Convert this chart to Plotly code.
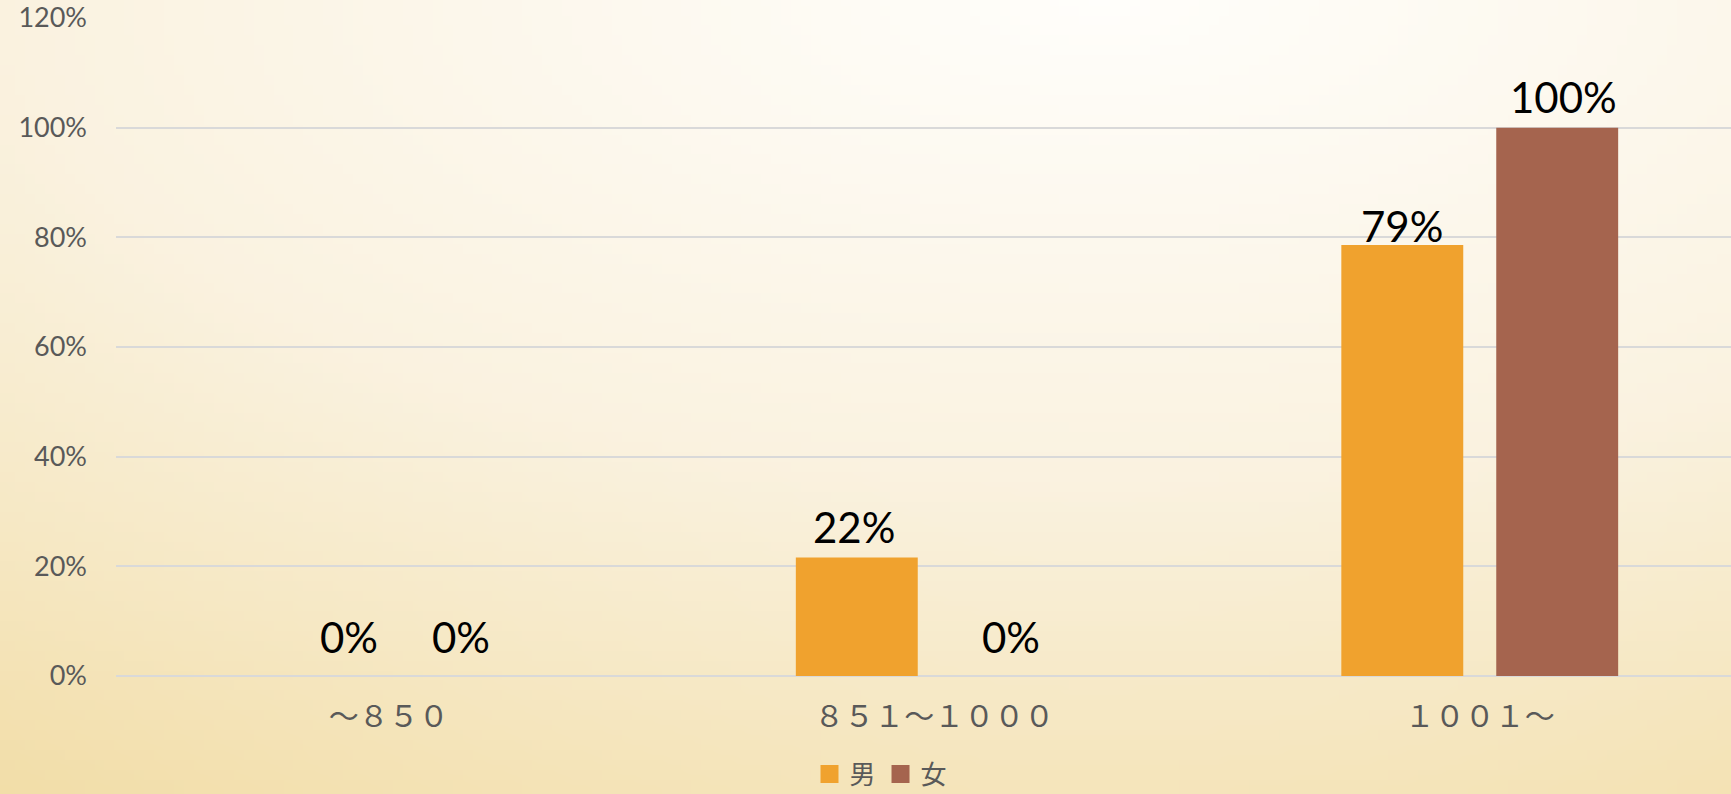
import base64
import math
import struct
import zlib

import plotly.graph_objects as go

categories = ["～８５０", "８５１～１０００", "１００１～"]
male = [0.0, 0.216, 0.786]
female = [0.0, 0.0, 1.0]
male_labels = ["0%", "22%", "79%"]
female_labels = ["0%", "0%", "100%"]
y_ticks = [0, 0.2, 0.4, 0.6, 0.8, 1.0, 1.2]

W, H = 1731, 794
ML, MT, MB = 116, 18, 118
PW, PH = W - ML, H - MT - MB

MALE_COLOR = "#F0A22E"
FEMALE_COLOR = "#A5644E"


def bg_png(w=174, h=80):
    # soft radial gradient like the office chart background
    stops = [(0.0, (255, 254, 251)), (0.6, (250, 242, 224)),
             (0.9, (246, 232, 196)), (1.2, (241, 220, 164))]

    def col(d):
        if d <= stops[0][0]:
            return stops[0][1]
        for (d0, c0), (d1, c1) in zip(stops, stops[1:]):
            if d <= d1:
                t = (d - d0) / (d1 - d0)
                return tuple(int(round(a + (b - a) * t)) for a, b in zip(c0, c1))
        return stops[-1][1]

    raw = b""
    for j in range(h):
        row = bytearray(b"\x00")
        for i in range(w):
            x = (i + 0.5) * W / w
            y = (j + 0.5) * H / h
            d = math.sqrt(((x - 1100) / 1800) ** 2 + (y / 800) ** 2)
            row += bytes(col(d))
        raw += bytes(row)

    def chunk(t, data):
        return (struct.pack(">I", len(data)) + t + data
                + struct.pack(">I", zlib.crc32(t + data) & 0xffffffff))

    png = (b"\x89PNG\r\n\x1a\n"
           + chunk(b"IHDR", struct.pack(">IIBBBBB", w, h, 8, 2, 0, 0, 0))
           + chunk(b"IDAT", zlib.compress(raw))
           + chunk(b"IEND", b""))
    return "data:image/png;base64," + base64.b64encode(png).decode()


fig = go.Figure()
fig.add_trace(go.Bar(x=categories, y=male, name="男", showlegend=False,
                     marker=dict(color=MALE_COLOR, line=dict(width=0))))
fig.add_trace(go.Bar(x=categories, y=female, name="女", showlegend=False,
                     marker=dict(color=FEMALE_COLOR, line=dict(width=0))))
# legend entries with bigger square swatches
for name, color in [("男", MALE_COLOR), ("女", FEMALE_COLOR)]:
    fig.add_trace(go.Scatter(x=[None], y=[None], mode="markers", name=name,
                             marker=dict(symbol="square", size=16, color=color,
                                         line=dict(width=2, color=color))))

# data labels
label_font = dict(family="Lato, sans-serif", size=42, color="#000000")
male_dx = [-40, -80, -78]
male_dy = [39, 31, 19]
female_dx = [72, 77, 84]
female_dy = [39, 39, 31]
annotations = []
for i, cat in enumerate(categories):
    annotations.append(dict(x=cat, y=male[i], text=male_labels[i], showarrow=False,
                            xshift=male_dx[i], yshift=male_dy[i], yanchor="middle",
                            font=label_font))
    annotations.append(dict(x=cat, y=female[i], text=female_labels[i], showarrow=False,
                            xshift=female_dx[i], yshift=female_dy[i], yanchor="middle",
                            font=label_font))

# plot area in Excel runs a little past the right edge of the picture
x_right = -0.5 + 3 * PW / (3 * 545.5)

fig.update_layout(
    width=W, height=H,
    margin=dict(l=ML, r=0, t=MT, b=MB, pad=0, autoexpand=False),
    paper_bgcolor="#F4E6BE",
    plot_bgcolor="rgba(0,0,0,0)",
    barmode="group",
    bargap=0.432,
    bargroupgap=0.213,
    annotations=annotations,
    images=[dict(source=bg_png(), xref="paper", yref="paper",
                 x=-ML / PW, y=1 + MT / PH, sizex=W / PW, sizey=H / PH,
                 xanchor="left", yanchor="top", sizing="stretch", layer="below")],
    xaxis=dict(range=[-0.5, x_right], showgrid=False, zeroline=False,
               showline=False, ticks="", ticklabelstandoff=20,
               tickfont=dict(family="Noto Sans CJK JP", size=30, color="#595959")),
    yaxis=dict(range=[0, 1.2], tickvals=y_ticks, tickformat=".0%",
               showgrid=True, gridcolor="#D9D9D9", gridwidth=1.5,
               zeroline=True, zerolinecolor="#D9D9D9", zerolinewidth=1.5,
               showline=False, ticks="", ticklabelstandoff=28,
               tickfont=dict(family="Lato, sans-serif", size=27, color="#595959")),
    legend=dict(orientation="h", xref="container", yref="container",
                x=881 / W, xanchor="center", y=1 - 774 / H, yanchor="middle",
                font=dict(family="Noto Sans CJK JP", size=26, color="#595959"),
                bgcolor="rgba(0,0,0,0)", itemwidth=30, tracegroupgap=0),
    showlegend=True,
)

fig.write_html("out.html",
               config={"displayModeBar": False, "responsive": False},
               post_script="document.body.style.margin='0px';"
                           "document.body.style.overflow='hidden';")
